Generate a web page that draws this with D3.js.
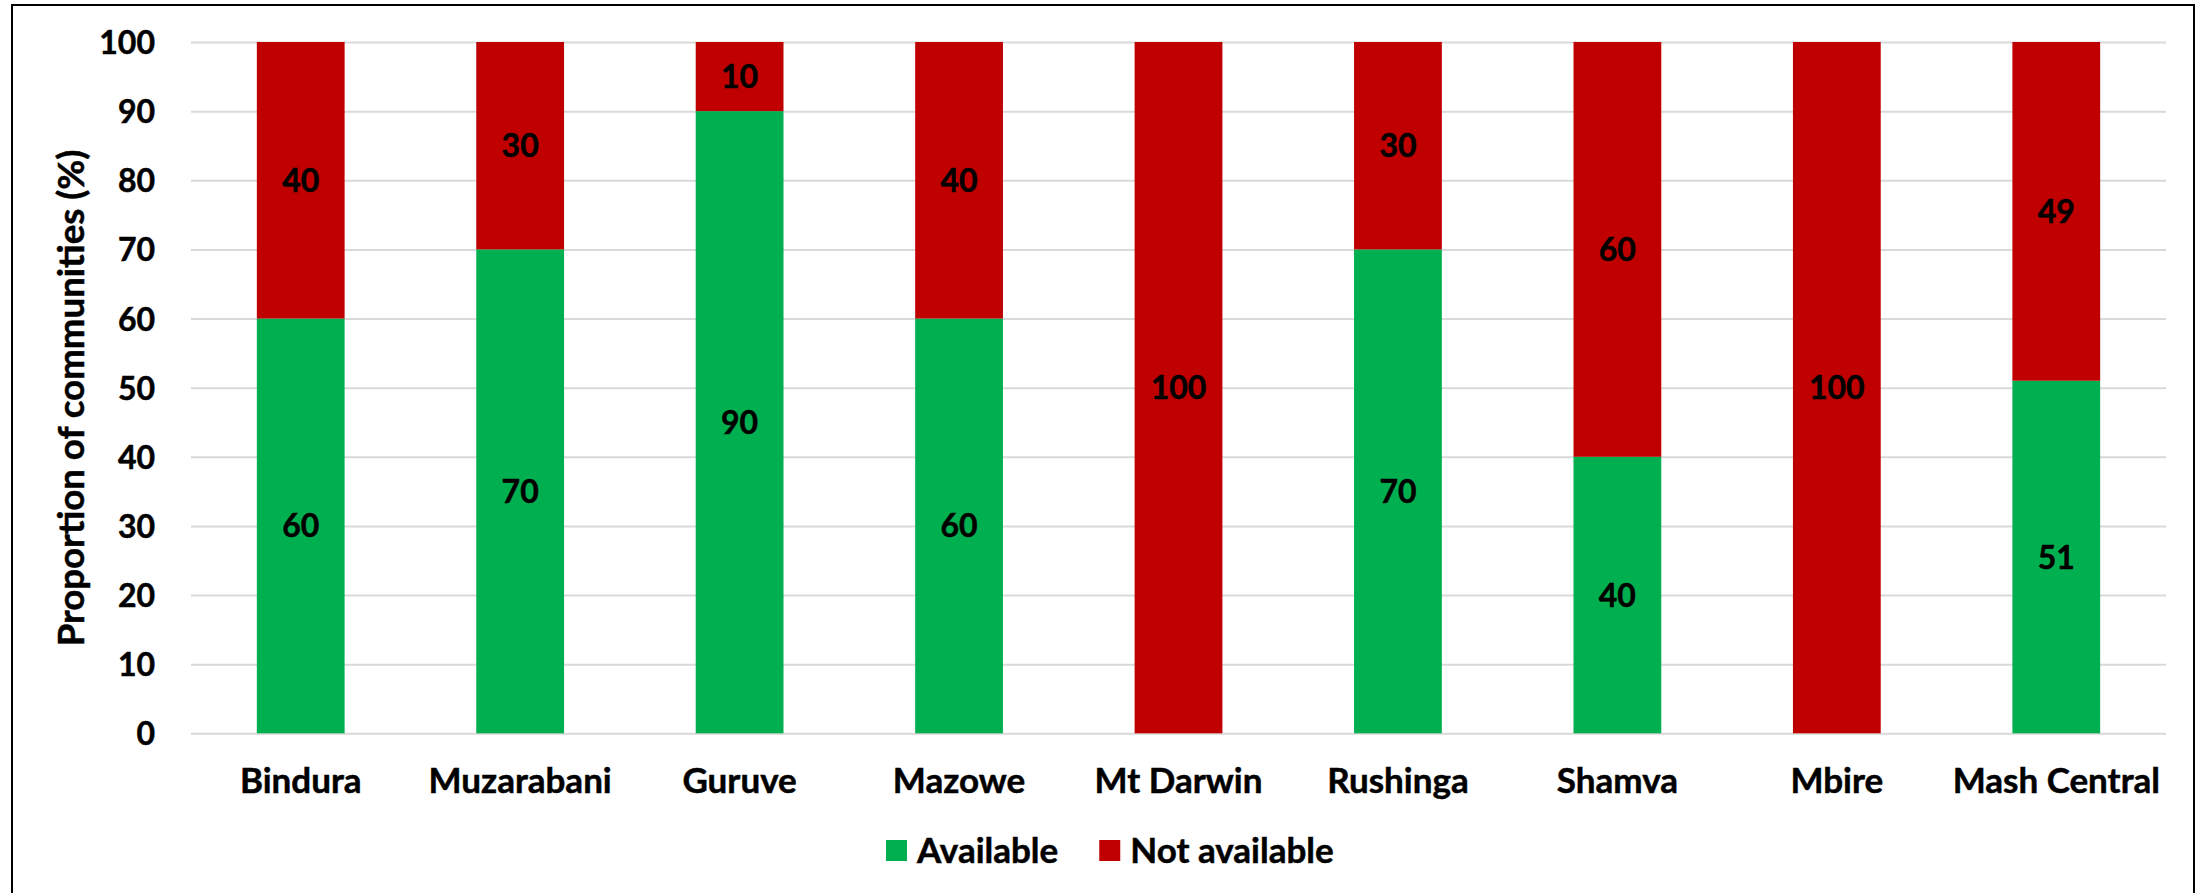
<!DOCTYPE html>
<html>
<head>
<meta charset="utf-8">
<script src="https://cdn.jsdelivr.net/npm/d3@7/dist/d3.min.js"></script>
<style>
  html, body { margin: 0; padding: 0; background: #ffffff; }
  svg { display: block; }
  text { font-family: Lato, "Open Sans", sans-serif; font-weight: 700; fill: #000;
         stroke: #000; stroke-width: 0.5px; }
</style>
</head>
<body>
<svg id="chart" width="2198" height="893"></svg>
<script>
// Districts along the x axis
const districts = ["Bindura", "Muzarabani", "Guruve", "Mazowe", "Mt Darwin",
                   "Rushinga", "Shamva", "Mbire", "Mash Central"];
// Share of communities (%) in each district
const available    = [60, 70, 90, 60, 0, 70, 40, 0, 51];
const notAvailable = [40, 30, 10, 40, 100, 30, 60, 100, 49];
// Series names and y-axis ticks
const seriesNames = ["Available", "Not available"];
const yTicks = [0, 10, 20, 30, 40, 50, 60, 70, 80, 90, 100];

const colors = { "Available": "#00B050", "Not available": "#C00000" };
const numSize = 32;      // tick and value labels
const catSize = 35;      // district names
const legendSize = 35;
const titleLength = 497; // length of the rotated y-axis title

const svg = d3.select("#chart");

// Chart frame
svg.append("rect")
  .attr("x", 12).attr("y", 5)
  .attr("width", 2182).attr("height", 900)
  .attr("fill", "#fff").attr("stroke", "#000").attr("stroke-width", 2);

const plot = { left: 191, right: 2166, top: 42, bottom: 733.3 };

const x = d3.scaleBand()
  .domain(districts)
  .range([plot.left, plot.right])
  .paddingInner(0.6)
  .paddingOuter(0.3);

const y = d3.scaleLinear()
  .domain([0, 100])
  .range([plot.bottom, plot.top]);

// Gridlines and y tick labels
const yAxis = svg.append("g")
  .attr("transform", `translate(${plot.left},0)`)
  .call(d3.axisLeft(y)
    .tickValues(yTicks)
    .tickSizeInner(-(plot.right - plot.left))
    .tickSizeOuter(0)
    .tickPadding(36));
yAxis.select(".domain").remove();
yAxis.selectAll(".tick line").attr("stroke", "#d9d9d9").attr("stroke-width", 2);
yAxis.selectAll(".tick text")
  .attr("font-size", numSize)
  .attr("font-family", "Lato, sans-serif")
  .attr("font-weight", 700)
  .attr("fill", "#000")
  .attr("dy", "0.36em");

// Stacked bars
const rows = districts.map((d, i) => ({
  district: d, "Available": available[i], "Not available": notAvailable[i]
}));
const stacked = d3.stack().keys(seriesNames)(rows);

const layers = svg.append("g").selectAll("g")
  .data(stacked)
  .join("g")
  .attr("fill", s => colors[s.key]);

layers.selectAll("rect")
  .data(s => s.map(seg => ({ seg, key: s.key })))
  .join("rect")
  .attr("x", d => x(d.seg.data.district))
  .attr("width", x.bandwidth())
  .attr("y", d => y(d.seg[1]))
  .attr("height", d => y(d.seg[0]) - y(d.seg[1]));

// Value labels centred in each non-empty segment
layers.selectAll("text.value")
  .data(s => s.map(seg => ({ seg, key: s.key })).filter(d => d.seg.data[d.key] > 0))
  .join("text")
  .attr("class", "value")
  .attr("x", d => x(d.seg.data.district) + x.bandwidth() / 2)
  .attr("y", d => y((d.seg[0] + d.seg[1]) / 2))
  .attr("dy", "0.36em")
  .attr("text-anchor", "middle")
  .attr("font-size", numSize)
  .style("fill", "#000")
  .text(d => d.seg.data[d.key]);

// Category labels
const xAxis = svg.append("g")
  .attr("transform", `translate(0,${plot.bottom})`)
  .call(d3.axisBottom(x).tickSize(0).tickPadding(0));
xAxis.select(".domain").remove();
xAxis.selectAll(".tick text")
  .attr("font-size", catSize)
  .attr("font-family", "Lato, sans-serif")
  .attr("font-weight", 700)
  .attr("fill", "#000")
  .attr("dy", 0)
  .attr("y", 793 - plot.bottom);

// Y-axis title, sized to its target length
const title = svg.append("text")
  .attr("transform", "translate(71,398) rotate(-90)")
  .attr("text-anchor", "middle")
  .attr("dy", "0.36em")
  .attr("font-size", 30)
  .text("Proportion of communities (%)");
const len = title.node().getComputedTextLength();
title.attr("font-size", 30 * titleLength / len);

// Legend
const legend = svg.append("g").attr("transform", "translate(886,840)");
let lx = 0;
seriesNames.forEach(name => {
  const g = legend.append("g").attr("transform", `translate(${lx},0)`);
  g.append("rect").attr("width", 21).attr("height", 21).attr("fill", colors[name]);
  const t = g.append("text")
    .attr("x", 31).attr("y", 23)
    .attr("font-size", legendSize)
    .text(name);
  lx += 31 + t.node().getComputedTextLength() + 41;
});
</script>
</body>
</html>
